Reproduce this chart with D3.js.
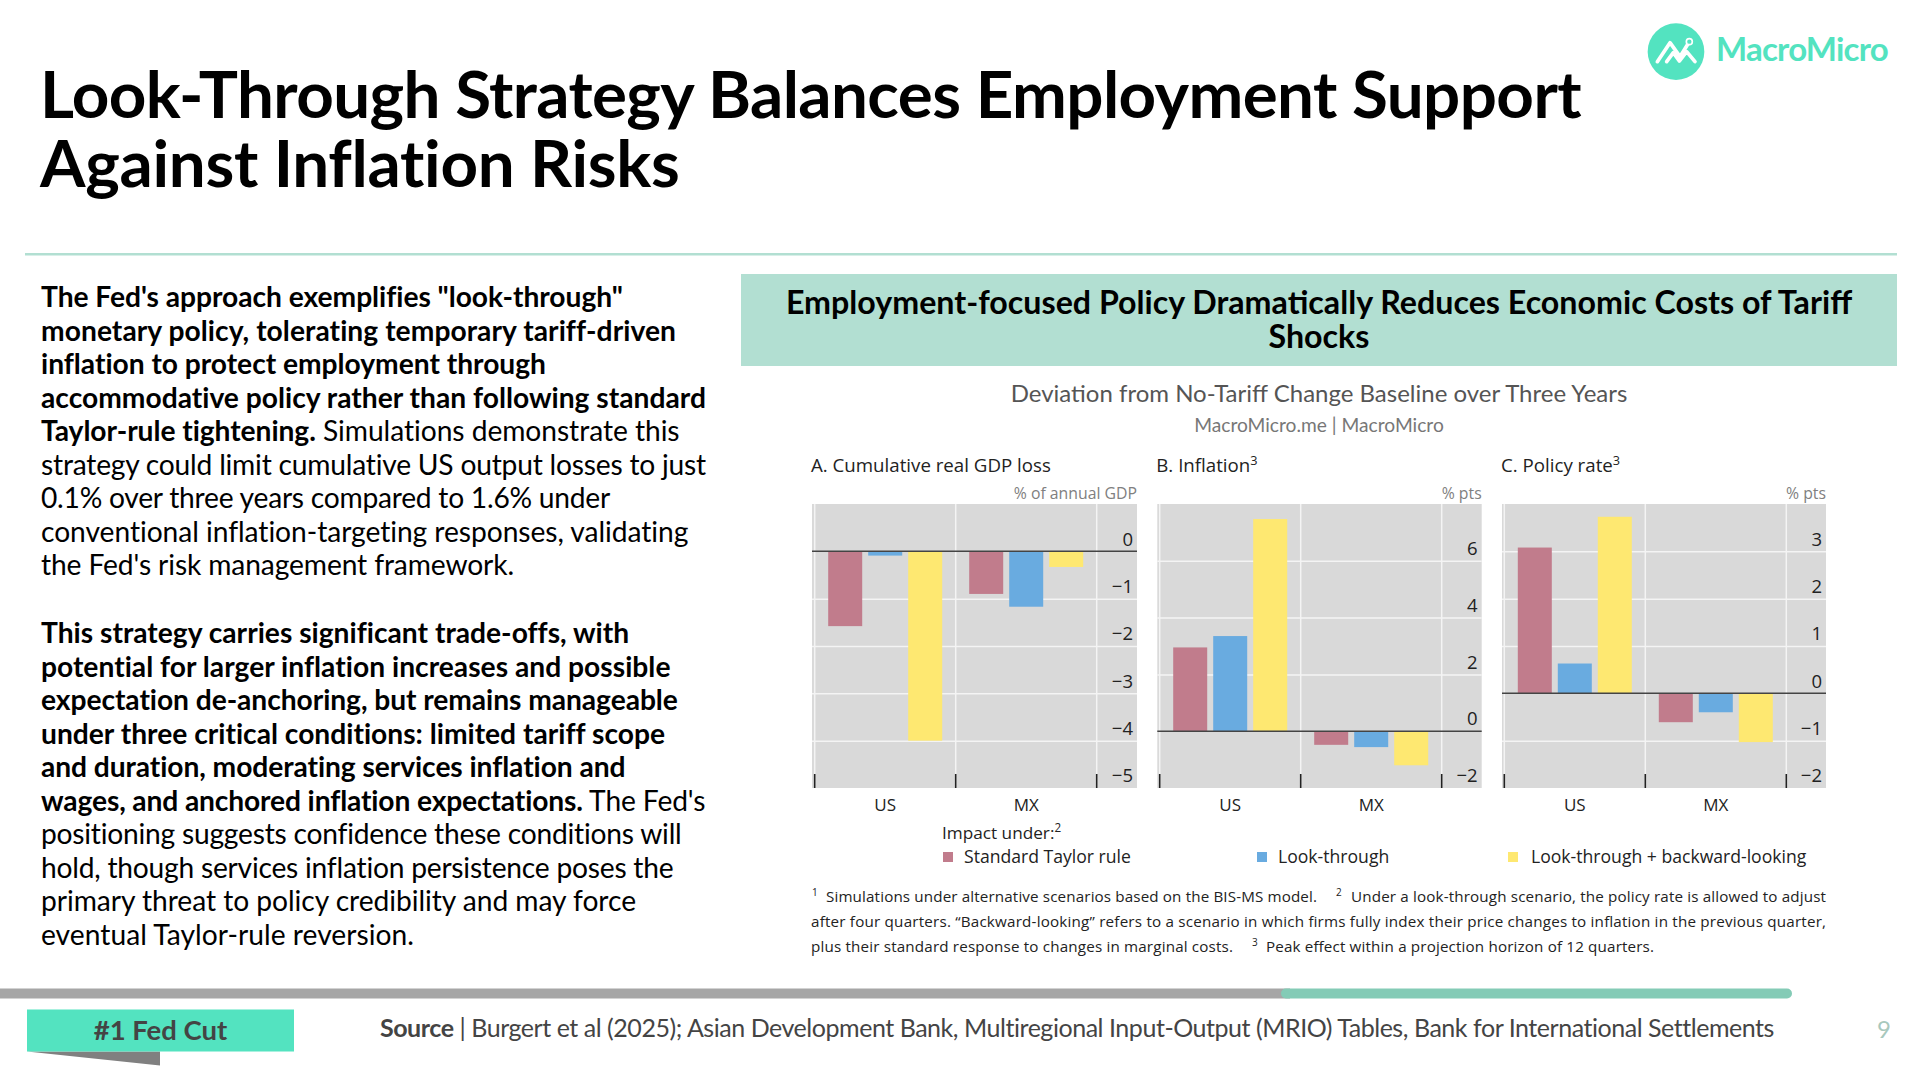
<!DOCTYPE html>
<html><head><meta charset="utf-8">
<script src="https://cdn.jsdelivr.net/npm/d3@7"></script>
<style>html,body{margin:0;padding:0;background:#fff;overflow:hidden}svg{display:block}</style>
</head><body><svg id="c" width="1920" height="1080"></svg>
<script>
const categories = ["US","MX"];
const seriesNames = ["Standard Taylor rule","Look-through","Look-through + backward-looking"];
const seriesColors = ["#c17c8c","#69abe0","#fee871"];
const gdpLoss = [[-1.58,-0.09,-4.0],[-0.9,-1.17,-0.33]];
const inflation = [[2.95,3.35,7.47],[-0.48,-0.56,-1.2]];
const policyRate = [[3.08,0.63,3.73],[-0.61,-0.4,-1.03]];
const gdpTicks = [0,-1,-2,-3,-4,-5];
const inflTicks = [6,4,2,0,-2];
const rateTicks = [3,2,1,0,-1,-2];
const titleLines = ["Look-Through Strategy Balances Employment Support","Against Inflation Risks"];
const headerLines = ["Employment-focused Policy Dramatically Reduces Economic Costs of Tariff","Shocks"];
const para1 = [
 [["The Fed's approach exemplifies \"look-through\"",1]],
 [["monetary policy, tolerating temporary tariff-driven",1]],
 [["inflation to protect employment through",1]],
 [["accommodative policy rather than following standard",1]],
 [["Taylor-rule tightening.",1],[" Simulations demonstrate this",0]],
 [["strategy could limit cumulative US output losses to just",0]],
 [["0.1% over three years compared to 1.6% under",0]],
 [["conventional inflation-targeting responses, validating",0]],
 [["the Fed's risk management framework.",0]]];
const para2 = [
 [["This strategy carries significant trade-offs, with",1]],
 [["potential for larger inflation increases and possible",1]],
 [["expectation de-anchoring, but remains manageable",1]],
 [["under three critical conditions: limited tariff scope",1]],
 [["and duration, moderating services inflation and",1]],
 [["wages, and anchored inflation expectations.",1],[" The Fed's",0]],
 [["positioning suggests confidence these conditions will",0]],
 [["hold, though services inflation persistence poses the",0]],
 [["primary threat to policy credibility and may force",0]],
 [["eventual Taylor-rule reversion.",0]]];
const para1Edges = [622.5,675.5,546.6,706.4,680.5,706.4,610,690.4,514];
const para2Edges = [627.9,671.6,678.3,665,627,706.4,682,674,636,414];

const svg = d3.select("#c");
const LATO = "Lato, sans-serif", OS = "'Open Sans', 'Noto Sans', sans-serif";
function T(x,y,s,size,o={}){
  return svg.append("text").attr("x",x).attr("y",y).text(s)
   .attr("font-family",o.f||LATO).attr("font-size",size).attr("font-weight",o.w||400)
   .attr("fill",o.c||"#000").attr("text-anchor",o.a||"start");
}
function sup(t,s,size){ t.append("tspan").attr("dy",-size*0.38).attr("font-size",size*0.68).text(s); }
// tune letter spacing so a left-aligned line ends at the given right edge
function fitTo(t,x,edge){
  const n=t.node(), len=n.getComputedTextLength(), chars=n.textContent.length;
  t.attr("letter-spacing",((edge-x-len)/chars).toFixed(3));
  return t;
}

// heading
const titleEdges=[1581,681];
titleLines.forEach((s,i)=>fitTo(T(40,118+i*69,s,65.5,{w:700}),40,titleEdges[i]));
svg.append("rect").attr("x",25).attr("y",253).attr("width",1872).attr("height",2.5).attr("fill","#b2dfd2");

// logo
const logo = svg.append("g").attr("transform","translate(1620,0) scale(0.3333)");
logo.append("circle").attr("cx",168).attr("cy",155).attr("r",85).attr("fill","#53e3c0");
const pl = [[112,185,150,128,180,170,208,125],[140,185,160,158,178,183,200,155,225,185]];
pl.forEach(p=>logo.append("polyline").attr("points",p.join(" ")).attr("fill","none").attr("stroke","#fff").attr("stroke-width",11).attr("stroke-linecap","round").attr("stroke-linejoin","round"));
logo.append("circle").attr("cx",208).attr("cy",125).attr("r",9).attr("fill","#53e3c0").attr("stroke","#fff").attr("stroke-width",5);
fitTo(T(1716,61,"MacroMicro",33,{w:700,c:"#53e3c0"}),1716,1888);

// body
function body(lines,y0,edges){
  lines.forEach((segs,i)=>{
    const t=T(41,y0+i*33.5,"",28.2);
    segs.forEach(([s,b])=>t.append("tspan").attr("font-weight",b?700:400).text(s));
    fitTo(t,41,edges[i]);
  });
}
body(para1,307.4,para1Edges); body(para2,643.4,para2Edges);

// header
svg.append("rect").attr("x",741).attr("y",274).attr("width",1156).attr("height",92).attr("fill","#b2dfd2");
headerLines.forEach((s,i)=>T(1319,313.5+i*34.5,s,32.2,{w:700,a:"middle"}));
T(1319,402,"Deviation from No-Tariff Change Baseline over Three Years",24,{a:"middle",c:"#555"});
T(1319,431.5,"MacroMicro.me | MacroMicro",19.2,{a:"middle",c:"#777"});

// panels
function panel(cfg){
  const {left,right,gridStart,domain,ticks,data,title,supText,unit}=cfg;
  const top=504,bottom=788;
  const y=d3.scaleLinear().domain(domain).range([bottom,top]);
  const xCat=d3.scaleBand().domain(categories).range([gridStart,gridStart+282]);
  const xBar=d3.scaleBand().domain(seriesNames).range([0,114]).paddingInner(0.15);
  const g=svg.append("g");
  g.append("rect").attr("x",left).attr("y",top).attr("width",right-left).attr("height",bottom-top).attr("fill","#d9d9d9");
  // gridlines
  const hg=g.append("g").attr("transform",`translate(${left},0)`)
    .call(d3.axisRight(y).tickValues(ticks.filter(v=>v!==0&&v!==domain[0])).tickSize(right-left).tickFormat(""));
  hg.select(".domain").remove();
  hg.selectAll("line").attr("stroke","#f4f4f4").attr("stroke-width",1.5);
  const edges=[gridStart,gridStart+141,gridStart+282];
  g.selectAll(".vg").data(edges).join("line").attr("class","vg")
    .attr("x1",d=>d).attr("x2",d=>d).attr("y1",top).attr("y2",bottom).attr("stroke","#f4f4f4").attr("stroke-width",1.5);
  // bars
  categories.forEach((c,ci)=>{
    const cx=xCat(c)+xCat.bandwidth()/2-57;
    g.selectAll(null).data(data[ci]).join("rect")
      .attr("x",(d,i)=>cx+xBar(seriesNames[i])).attr("width",xBar.bandwidth())
      .attr("y",d=>y(Math.max(d,0))).attr("height",d=>Math.abs(y(d)-y(0)))
      .attr("fill",(d,i)=>seriesColors[i]);
  });
  // zero
  g.append("line").attr("x1",left).attr("x2",right).attr("y1",y(0)).attr("y2",y(0)).attr("stroke","#444").attr("stroke-width",1.5);
  // category ticks
  g.selectAll(".ct").data(edges).join("line").attr("class","ct")
    .attr("x1",d=>d).attr("x2",d=>d).attr("y1",bottom-14).attr("y2",bottom).attr("stroke","#222").attr("stroke-width",1.6);
  // y labels
  const ya=g.append("g").attr("transform",`translate(${right-4},-13)`)
    .call(d3.axisLeft(y).tickValues(ticks).tickSize(0).tickPadding(0).tickFormat(d3.format("d")));
  ya.select(".domain").remove();
  ya.selectAll("text").attr("font-family",OS).attr("font-size",18.5).attr("fill","#222").attr("dy","0.36em");
  // x labels
  const xa=g.append("g").attr("transform",`translate(0,${bottom})`)
    .call(d3.axisBottom(xCat).tickSize(0).tickPadding(11));
  xa.select(".domain").remove();
  xa.selectAll("text").attr("font-family",OS).attr("font-size",17).attr("fill","#222").attr("dy","0.71em");
  const t=T(left-1,472,title,18.7,{f:OS,c:"#222"});
  if(supText) sup(t,supText,18.7);
  T(right,499,unit,15.8,{f:OS,c:"#808080",a:"end"});
}
panel({left:812,right:1137,gridStart:814.7,domain:[-5,1],ticks:gdpTicks,data:gdpLoss,title:"A. Cumulative real GDP loss",unit:"% of annual GDP"});
panel({left:1157.3,right:1481.7,gridStart:1159.7,domain:[-2,8],ticks:inflTicks,data:inflation,title:"B. Inflation",supText:"3",unit:"% pts"});
panel({left:1502,right:1826,gridStart:1504.3,domain:[-2,4],ticks:rateTicks,data:policyRate,title:"C. Policy rate",supText:"3",unit:"% pts"});

// legend
sup(T(942,839,"Impact under:",17.2,{f:OS,c:"#222"}),"2",17.2);
const legX=[943,1257,1508], legTX=[964,1278,1531];
seriesNames.forEach((s,i)=>{
  svg.append("rect").attr("x",legX[i]).attr("y",852).attr("width",10).attr("height",10).attr("fill",seriesColors[i]);
  T(legTX[i],863,s,17.6,{f:OS,c:"#222"});
});

// footnotes
const fn={f:OS,c:"#222"}, fs=15.2;
function fit(x,y,s,w){ T(x,y,s,fs,fn).attr("textLength",w).attr("lengthAdjust","spacing"); }
T(812,896,"1",10,fn); fit(826,902,"Simulations under alternative scenarios based on the BIS-MS model.",491);
T(1336,896,"2",10,fn); fit(1351,902,"Under a look-through scenario, the policy rate is allowed to adjust",475);
fit(811,927,"after four quarters. \u201CBackward-looking\u201D refers to a scenario in which firms fully index their price changes to inflation in the previous quarter,",1015);
fit(811,952,"plus their standard response to changes in marginal costs.",422);
T(1252,946,"3",10,fn); fit(1266,952,"Peak effect within a projection horizon of 12 quarters.",388);

// footer
svg.append("rect").attr("x",0).attr("y",988.5).attr("width",1290).attr("height",10).attr("fill","#a6a6a6");
svg.append("rect").attr("x",1281).attr("y",988.5).attr("width",511).attr("height",10).attr("rx",5).attr("fill","#84cbb6");
svg.append("path").attr("d","M27,1051.5 L160,1051.5 L160,1065.5 Z").attr("fill","#808080");
svg.append("rect").attr("x",27).attr("y",1009.5).attr("width",267).attr("height",42).attr("fill","#53e3c0");
T(160.5,1040,"#1 Fed Cut",27.5,{w:700,c:"#444",a:"middle"});
const src=T(380,1037,"",25,{c:"#444"});
src.append("tspan").attr("font-weight",700).text("Source");
src.append("tspan").text(" | Burgert et al (2025); Asian Development Bank, Multiregional Input-Output (MRIO) Tables, Bank for International Settlements");
fitTo(src,380,1774);
T(1884,1038,"9",24,{c:"#a8c8bd",a:"middle"});
</script></body></html>
